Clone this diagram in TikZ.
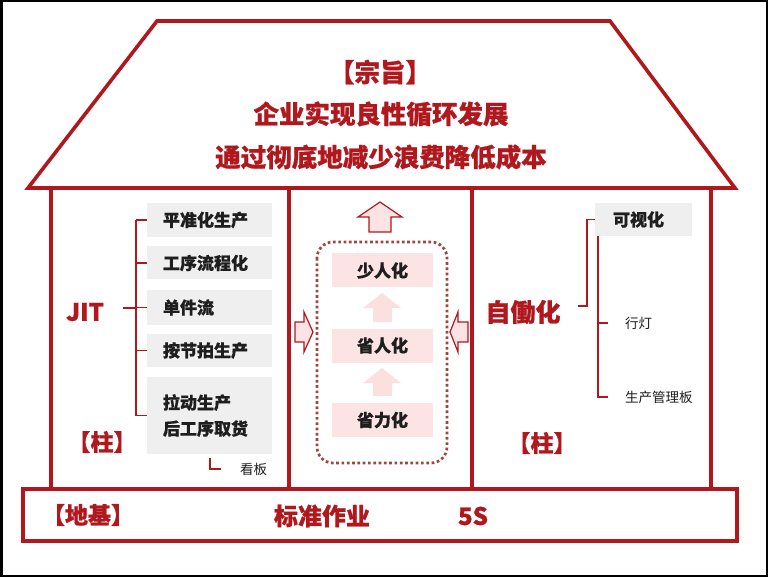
\documentclass[tikz,border=0pt]{standalone}
\usepackage{fontspec}
\setmainfont{Noto Sans CJK SC}[BoldFeatures={FakeBold=0.8}]
\definecolor{hred}{RGB}{176,24,30}
\definecolor{dotred}{RGB}{160,70,60}
\definecolor{boxgray}{RGB}{239,239,239}
\definecolor{boxpink}{RGB}{252,228,228}
\definecolor{faintpink}{RGB}{251,224,224}
\definecolor{txt}{RGB}{30,30,30}
\begin{document}
\begin{tikzpicture}[x=1pt,y=-1pt,
  redl/.style={draw=hred, line width=3.6pt},
  brk/.style={draw=hred, line width=1.6pt},
  graybox/.style={fill=boxgray, inner xsep=16pt, inner ysep=0pt, text width=93pt, align=left,
    font=\bfseries\fontsize{17}{20}\selectfont, text=txt},
  pinkbox/.style={fill=boxpink, minimum width=101pt, minimum height=34pt, inner sep=0pt,
    font=\bfseries\fontsize{17}{20}\selectfont, text=txt},
  redtxt/.style={text=hred, inner sep=0pt, font=\bfseries\fontsize{25.5}{30}\selectfont},
  small/.style={text=txt, font=\fontsize{13.5}{16}\selectfont, inner sep=0pt},
  outarrow/.style={fill=boxpink, draw=hred, line width=1.2pt, line join=miter},
  fadearrow/.style={fill=faintpink},
]
\useasboundingbox (0,0) rectangle (768,577);
\fill[white] (0,0) rectangle (768,577);
\draw[black, line width=2.5pt] (1.25,1.25) rectangle (766.75,575.75);

% roof
\draw[redl, line join=miter] (157,21) -- (610,21) -- (735,188) -- (28,188) -- cycle;
% walls
\draw[redl] (51,188) -- (51,489);
\draw[redl] (289,188) -- (289,489);
\draw[redl] (472,188) -- (472,489);
\draw[redl] (711,188) -- (711,489);
% foundation
\draw[redl] (23,489) rectangle (737,541);

% roof text
\node[redtxt] (zz) at (380,72) {【宗旨】};
\node[redtxt] (l1) at (381,114) {企业实现良性循环发展};
\node[redtxt] (l2) at (381,157) {通过彻底地减少浪费降低成本};

% left pillar
\node[redtxt, font=\bfseries\fontsize{24}{28}\selectfont] (jit) at (85,312) {JIT};
\node[redtxt, font=\bfseries\fontsize{23}{26}\selectfont] (zhuL) at (102,442) {【柱】};
\node[graybox, minimum height=34pt] (b1) at (209.5,220) {平准化生产};
\node[graybox, minimum height=33pt] (b2) at (209.5,263) {工序流程化};
\node[graybox, minimum height=35pt] (b3) at (209.5,307.5) {单件流};
\node[graybox, minimum height=33pt] (b4) at (209.5,350.5) {按节拍生产};
\node[graybox, minimum height=77pt, font=\bfseries\fontsize{17}{26}\selectfont] (b5) at (209.5,415.5) {拉动生产\\后工序取货};
\coordinate (bl) at (136,0);
\draw[brk] (b1.west -| bl) -- (b5.west -| bl);
\foreach \b in {b1,b2,b3,b4,b5} \draw[brk] (\b.west) -- (\b.west -| bl);
\coordinate (jitr) at (123,308);
\draw[brk] (jitr) -- (jitr -| bl);
\node[small, anchor=west] (kb) at (240,469) {看板};
\coordinate (kbc) at (210,458);
\draw[brk] (kbc) -- (kbc |- kb.west) -- ++(11,0);

% middle
\draw[outarrow] (380,202) -- (402,217) -- (391,217) -- (391,232) -- (369,232) -- (369,217) -- (358,217) -- cycle;
\draw[draw=dotred, line width=2.7pt, dash pattern=on 2.7pt off 2.6pt, rounded corners=16pt] (317,242) rectangle (447,463);
\node[pinkbox] (p1) at (382.5,270.5) {少人化};
\node[pinkbox] (p2) at (382.5,345.5) {省人化};
\node[pinkbox] (p3) at (382.5,420) {省力化};
\fill[fadearrow] (382,293) -- (401,308) -- (392,308) -- (392,322) -- (373,322) -- (373,308) -- (363,308) -- cycle;
\fill[fadearrow] (382,368) -- (401,383) -- (392,383) -- (392,396) -- (373,396) -- (373,383) -- (363,383) -- cycle;
\draw[outarrow] (313,332) -- (304,312) -- (304,322) -- (295,322) -- (295,342) -- (304,342) -- (304,352) -- cycle;
\draw[outarrow] (450,332) -- (458,312) -- (458,322) -- (468,322) -- (468,342) -- (458,342) -- (458,352) -- cycle;

% right pillar
\node[redtxt, font=\bfseries\fontsize{25}{30}\selectfont] (zdh) at (523,312) {自働化};
\node[redtxt, font=\bfseries\fontsize{23}{26}\selectfont] (zhuR) at (542,443) {【柱】};
\node[graybox, text width=61pt, inner xsep=18pt, minimum height=33pt] (kv) at (643.5,219.5) {可视化};
\coordinate (r1) at (578,306);
\coordinate (rv) at (587,0);
\draw[brk] (r1) -- (r1 -| rv) -- (kv.west -| rv) -- (kv.west);
\node[small, anchor=west] (xd) at (625,323) {行灯};
\node[small, anchor=west] (sc) at (625,397) {生产管理板};
\coordinate (sv) at (598,0);
\draw[brk] (sv |- kv.south) -- (sv |- sc.west) -- ++(10,0);
\draw[brk] (sv |- xd.west) -- ++(10,0);

% foundation text
\node[redtxt, font=\bfseries\fontsize{23}{26}\selectfont] (dj) at (88,515) {【地基】};
\node[redtxt, font=\bfseries\fontsize{24}{28}\selectfont] (bz) at (322,516) {标准作业};
\node[redtxt, font=\bfseries\fontsize{24}{28}\selectfont] (ss) at (473,516) {5S};
\end{tikzpicture}
\end{document}
